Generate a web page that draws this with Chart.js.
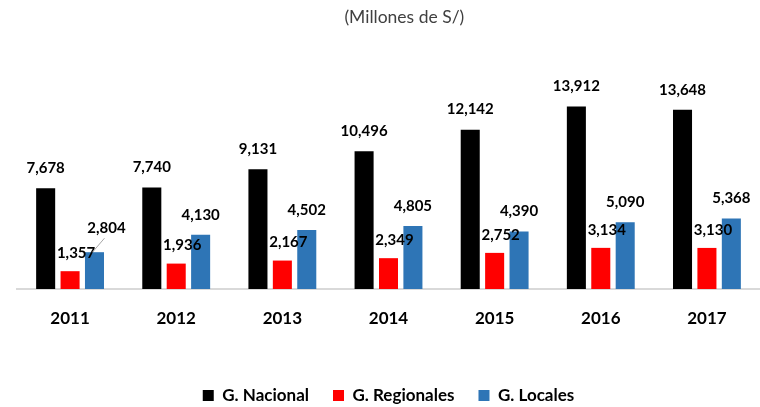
<!DOCTYPE html>
<html>
<head>
<meta charset="utf-8">
<title>Gasto por nivel de gobierno</title>
<script src="https://cdn.jsdelivr.net/npm/chart.js@4.4.1/dist/chart.umd.min.js"></script>
<style>
    html, body { margin: 0; padding: 0; background: #ffffff; }
    #wrap { width: 760px; height: 407px; position: relative; }
</style>
</head>
<body>
<div id="wrap"><canvas id="gastoChart"></canvas></div>
<script>
// Data (Millones de S/)
const years = ['2011', '2012', '2013', '2014', '2015', '2016', '2017'];
const nacional = [7678, 7740, 9131, 10496, 12142, 13912, 13648];
const regionales = [1357, 1936, 2167, 2349, 2752, 3134, 3130];
const locales = [2804, 4130, 4502, 4805, 4390, 5090, 5368];
const seriesNames = ['G. Nacional', 'G. Regionales', 'G. Locales'];
const subtitle = '(Millones de S/)';

const FONT = "Lato, 'Open Sans', sans-serif";

// subtitle drawn at the top, a bit right of centre like the original
const subtitlePlugin = {
    id: 'subtitleText',
    afterDraw(chart) {
        const ctx = chart.ctx;
        ctx.save();
        ctx.font = '17.5px ' + FONT;
        ctx.fillStyle = '#404040';
        ctx.textAlign = 'center';
        ctx.textBaseline = 'middle';
        ctx.fillText(subtitle, chart.width * 0.532, 17);
        ctx.restore();
    }
};

// value labels above the bars (Excel-style placement)
const valueLabels = {
    id: 'valueLabels',
    afterDatasetsDraw(chart, args, opts) {
        const ctx = chart.ctx;
        ctx.save();
        ctx.font = 'bold 15px ' + FONT;
        ctx.fillStyle = '#000000';
        ctx.textAlign = 'center';
        ctx.textBaseline = 'middle';
        chart.data.datasets.forEach((ds, di) => {
            const meta = chart.getDatasetMeta(di);
            const off = opts.offsets[di];
            meta.data.forEach((bar, i) => {
                let dx = off.dx, dy = off.dy;
                const lead = opts.leader;
                if (lead && lead.dataset === di && lead.index === i) {
                    dx = lead.dx; dy = lead.dy;
                    ctx.strokeStyle = '#a6a6a6';
                    ctx.lineWidth = 1;
                    ctx.beginPath();
                    ctx.moveTo(bar.x - 2, bar.y);
                    ctx.lineTo(bar.x + dx - 2, bar.y + dy + 10);
                    ctx.stroke();
                }
                const v = ds.data[i].toLocaleString('en-US');
                ctx.fillText(v, bar.x + dx, bar.y + dy);
            });
        });
        ctx.restore();
    }
};

const ctx = document.getElementById('gastoChart');
new Chart(ctx, {
    type: 'bar',
    data: {
        labels: years,
        datasets: [
            { label: seriesNames[0], data: nacional, backgroundColor: '#000000' },
            { label: seriesNames[1], data: regionales, backgroundColor: '#ff0000' },
            { label: seriesNames[2], data: locales, backgroundColor: '#2e75b6' }
        ]
    },
    options: {
        responsive: true,
        maintainAspectRatio: false,
        animation: false,
        layout: { padding: { top: 79, left: 17, right: 0, bottom: 0 } },
        datasets: {
            bar: { categoryPercentage: 0.69, barPercentage: 0.78, borderWidth: 0 }
        },
        plugins: {
            title: { display: false },
            tooltip: { enabled: false },
            legend: {
                position: 'bottom',
                maxHeight: 44,
                labels: {
                    boxWidth: 11,
                    boxHeight: 11,
                    padding: 24,
                    color: '#000000',
                    font: { family: FONT, size: 17, weight: 'bold' }
                }
            },
            valueLabels: {
                offsets: [
                    { dx: 0, dy: -20 },
                    { dx: 6, dy: -18 },
                    { dx: 0, dy: -20 }
                ],
                leader: { dataset: 2, index: 0, dx: 12, dy: -24 }
            }
        },
        scales: {
            x: {
                grid: { display: false },
                border: { display: true, color: '#d9d9d9', width: 2 },
                ticks: {
                    color: '#000000',
                    padding: 11,
                    font: { family: FONT, size: 17, weight: 'bold' }
                },
                afterFit(scale) { scale.height = 74; }
            },
            y: {
                display: false,
                min: 0,
                max: 16000
            }
        }
    },
    plugins: [subtitlePlugin, valueLabels]
});
</script>
</body>
</html>
